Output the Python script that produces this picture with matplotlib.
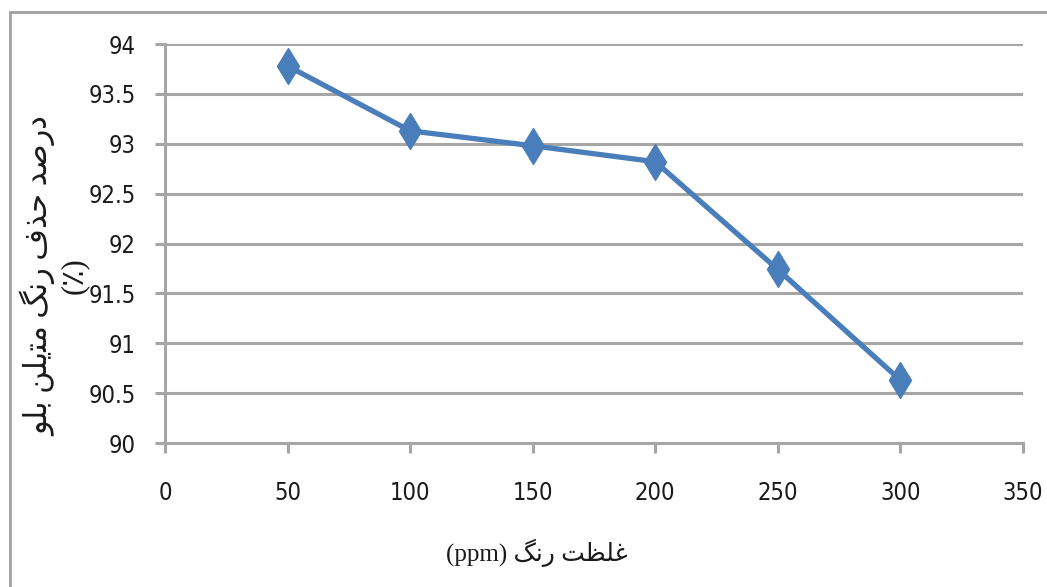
import matplotlib.pyplot as plt
from matplotlib.patches import Rectangle

# داده‌ها
conc = [50, 100, 150, 200, 250, 300]
removal = [93.78, 93.13, 92.98, 92.82, 91.74, 90.63]
x_ticks = [0, 50, 100, 150, 200, 250, 300, 350]
y_ticks = [90, 90.5, 91, 91.5, 92, 92.5, 93, 93.5, 94]
y_tick_labels = ['90', '90.5', '91', '91.5', '92', '92.5', '93', '93.5', '94']

# متن فارسی به صورت حروف شکل‌یافته و به ترتیب نمایشی (matplotlib شکل‌دهی عربی ندارد)
# غلظت رنگ (ppm)
x_label = '(ppm) \uFB93\uFEE7\uFEAD \uFE96\uFEC8\uFEE0\uFECF'
# درصد حذف رنگ متیلن بلو (٪)
y_label = ('\uFEEE\uFEE0\uFE91 \uFEE6\uFEE0\uFBFE\uFE98\uFEE3 \uFB93\uFEE7\uFEAD '
           '\uFED1\uFEAC\uFEA3 \uFEAA\uFEBB\uFEAD\uFEA9\n(\u066A)')

grid_color = '#a6a6a6'
line_color = '#4a7ebb'
label_font = ['Liberation Serif', 'DejaVu Sans']

fig = plt.figure(figsize=(10.47, 5.87), dpi=100)
ax = fig.add_axes([0.1576, 0.2453, 0.977 - 0.1576, 0.925 - 0.2453])

ax.plot(conc, removal, color=line_color, linewidth=3.8, marker='d',
        markersize=18, markeredgecolor=line_color, markerfacecolor=line_color,
        zorder=3)

ax.set_xlim(0, 350)
ax.set_ylim(90, 94)
ax.set_xticks(x_ticks)
ax.set_yticks(y_ticks)
ax.set_yticklabels(y_tick_labels)
ax.yaxis.grid(True, color=grid_color, linewidth=2.2)
ax.set_axisbelow(True)

for side in ['top', 'right']:
    ax.spines[side].set_visible(False)
for side in ['left', 'bottom']:
    ax.spines[side].set_color(grid_color)
    ax.spines[side].set_linewidth(2.2)

ax.tick_params(axis='both', colors=grid_color, width=2.2, length=7,
               labelcolor='#1a1a1a', labelsize=17)
ax.tick_params(axis='x', pad=20)
ax.tick_params(axis='y', pad=14)
for lbl in ax.get_xticklabels() + ax.get_yticklabels():
    lbl.set_family('DejaVu Sans')
    lbl.set_fontstretch('condensed')

fig.text(0.513, 0.058, x_label, ha='center', va='center', fontsize=18,
         family=label_font, color='#1a1a1a')
fig.text(0.052, 0.53, y_label, ha='center', va='center', fontsize=22,
         rotation=90, family=label_font, color='#1a1a1a', linespacing=1.15)

# کادر دور نمودار
fig.patches.append(Rectangle((10 / 1047, -0.1), 1.2, 1 - 12 / 587 + 0.1,
                             transform=fig.transFigure, fill=False,
                             edgecolor='#a0a0a0', linewidth=2))

fig.savefig('out.png', dpi=100)
